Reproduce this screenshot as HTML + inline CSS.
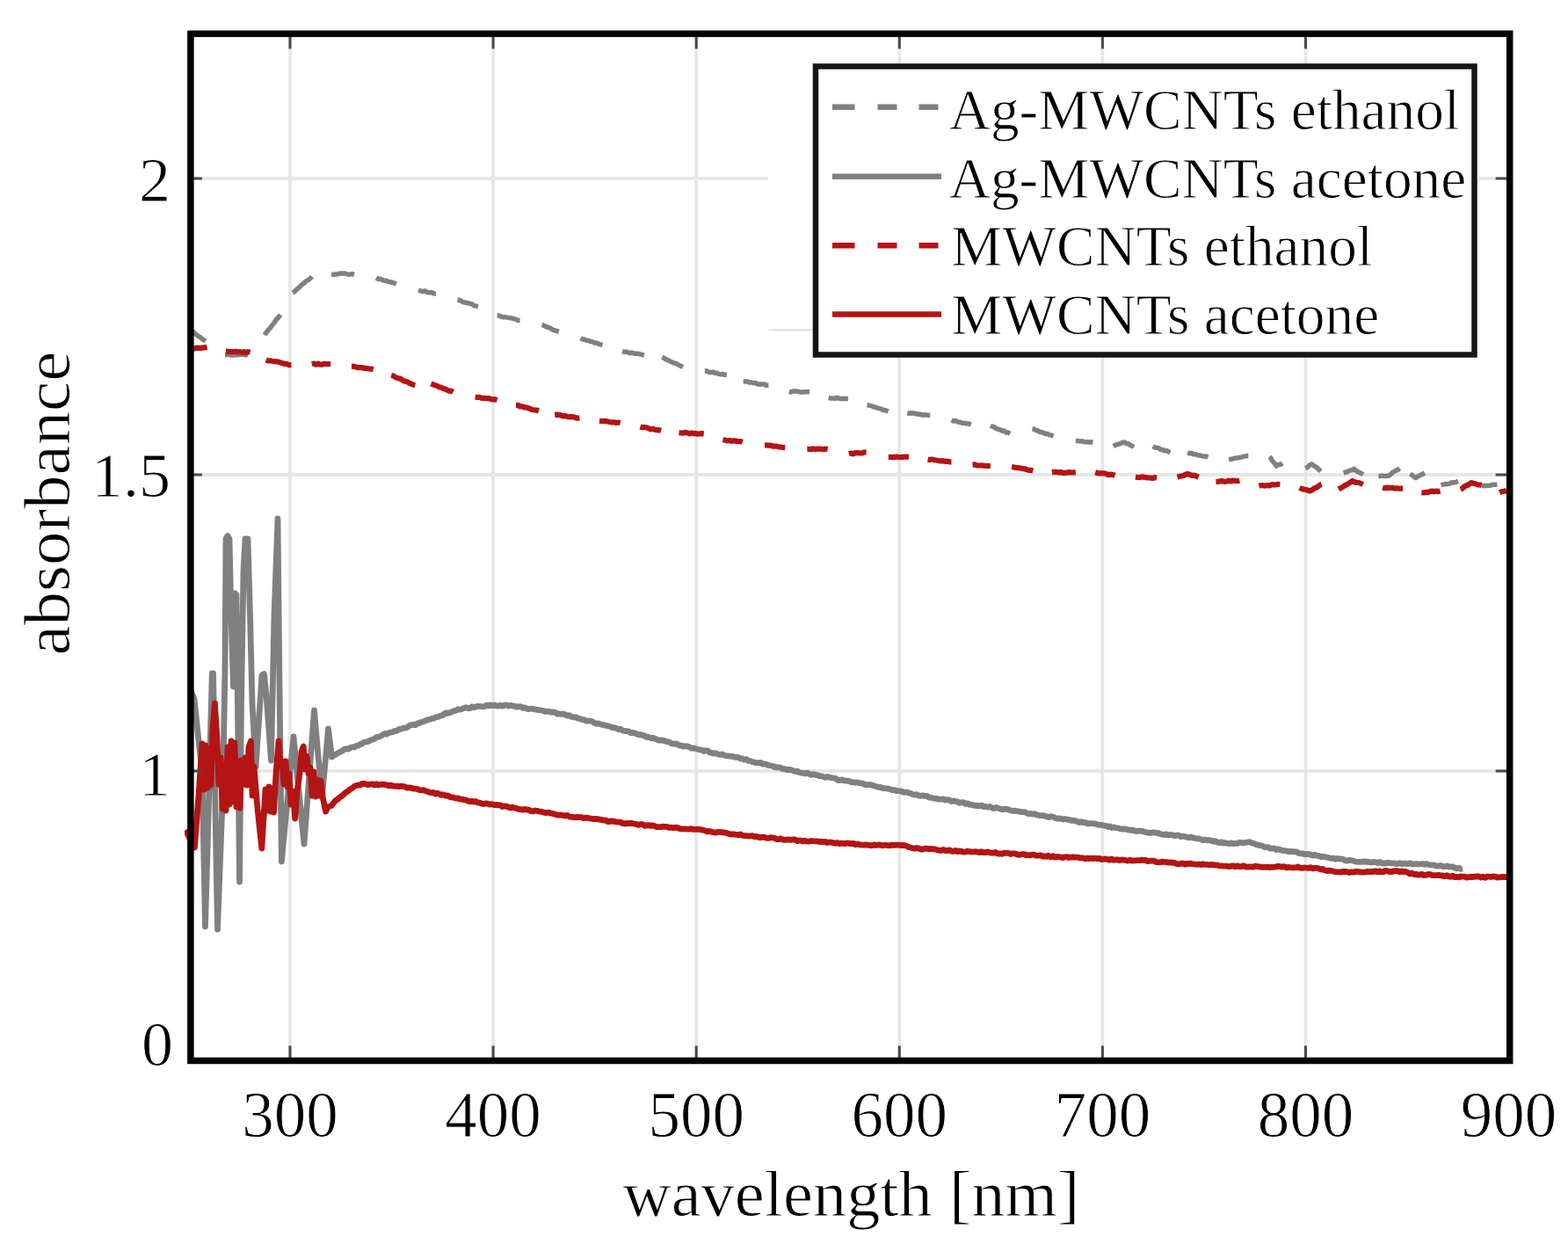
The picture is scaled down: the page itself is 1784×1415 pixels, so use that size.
<!DOCTYPE html>
<html><head><meta charset="utf-8"><title>absorbance</title>
<style>html,body{margin:0;padding:0;background:#fff;}body{width:1784px;height:1415px;overflow:hidden;}svg{display:block;}text{font-family:'Liberation Serif', 'Times New Roman', serif;fill:#000;stroke:#fff;stroke-width:0.9px;}</style>
</head><body>
<svg width="1784" height="1415" viewBox="0 0 1784 1415">
<rect x="0" y="0" width="1784" height="1415" fill="#fff"/>
<path d="M330.0 38.4V1206.5M561.1 38.4V1206.5M792.2 38.4V1206.5M1023.3 38.4V1206.5M1254.4 38.4V1206.5M1485.5 38.4V1206.5M216.9 203H874M1682 203H1717.7M216.9 540H1717.7M216.9 877H1717.7" stroke="#e7e7e7" stroke-width="3.8" fill="none"/>
<path d="M874.5 375.3H925" stroke="#e2e2e2" stroke-width="2.2" fill="none"/>
<defs><clipPath id="ax"><rect x="210" y="38.4" width="1507.7" height="1168.1"/></clipPath></defs>
<g clip-path="url(#ax)" fill="none" stroke-linejoin="round">
<path d="M216.0 783.0L221.0 795.0L230.0 880.0L233.5 1054.0L236.5 950.0L241.3 766.0L242.6 766.0L245.5 950.0L247.5 1057.0L253.5 900.0L256.0 760.0L257.0 613.0L259.0 609.5L261.0 613.0L263.0 700.0L265.5 781.0L266.8 700.0L267.5 675.0L269.0 677.0L271.0 850.0L272.5 1003.0L274.5 800.0L277.0 650.0L279.0 613.0L282.0 613.0L284.5 700.0L287.0 800.0L291.0 872.0L298.0 768.0L300.5 766.5L303.0 790.0L308.5 865.0L312.0 700.0L316.0 590.0L318.0 780.0L320.4 980.0L327.0 910.0L334.0 838.0L340.0 900.0L346.0 960.0L352.0 880.0L357.5 808.0L362.0 860.0L366.5 905.0L370.0 868.0L373.5 829.0L377.5 861.0L379.8 859.1L382.3 858.1L384.6 856.4L386.8 855.6L389.3 854.3L391.4 852.5L393.7 851.6L396.0 852.1L398.5 850.4L400.8 849.7L403.1 850.0L405.5 848.3L407.7 848.0L410.2 846.5L412.3 845.8L414.6 844.1L417.0 843.9L419.4 843.3L421.9 841.7L423.8 841.2L426.4 840.1L428.4 838.3L431.0 838.3L433.6 837.0L435.5 835.8L438.0 834.4L439.9 835.1L442.3 833.5L444.7 833.1L447.0 832.5L449.4 831.5L451.7 831.1L454.0 829.5L456.4 829.4L458.7 828.1L461.1 828.2L463.4 827.3L465.8 825.3L467.6 824.8L470.1 824.2L472.5 824.6L475.0 822.9L477.0 822.6L479.6 821.2L481.6 820.8L484.3 819.7L486.4 818.8L488.5 818.4L491.4 817.4L493.5 817.1L495.7 815.9L497.9 815.5L500.0 814.6L502.9 813.8L505.0 812.5L507.1 810.9L509.2 811.3L511.9 810.6L513.9 809.9L516.4 808.6L518.9 808.1L521.3 806.7L523.6 807.2L525.8 806.3L528.0 805.5L530.1 804.7L532.7 805.6L534.8 805.6L537.3 803.8L539.2 804.7L541.6 803.9L543.9 803.3L546.2 803.3L548.5 803.8L551.1 803.7L553.2 802.2L555.6 802.9L557.8 801.8L560.3 802.7L562.5 802.0L564.7 802.8L567.3 803.0L569.3 802.3L571.8 803.2L574.1 802.2L576.4 802.0L578.7 803.0L581.2 802.3L583.1 802.8L585.6 803.4L588.2 804.1L590.3 803.6L592.4 803.7L595.0 805.4L597.2 804.8L599.4 806.2L602.1 806.5L604.3 806.0L606.5 806.4L608.8 806.9L611.1 807.4L613.4 807.7L615.7 808.0L618.1 808.5L620.4 809.4L622.8 809.1L625.3 809.4L627.1 810.2L629.6 809.9L632.0 810.5L633.9 812.0L636.5 811.8L639.0 812.4L640.9 811.9L643.5 813.2L646.0 814.1L647.9 813.6L650.5 815.3L652.5 815.8L655.1 815.6L657.0 817.0L659.7 817.5L661.7 818.3L664.5 818.6L666.6 819.7L668.7 820.3L670.9 819.8L673.9 820.7L676.1 822.2L678.4 823.3L680.8 822.8L683.2 823.8L684.9 824.4L687.4 824.7L689.9 825.4L691.7 825.8L694.3 826.6L697.0 827.7L698.8 827.7L701.5 828.6L703.3 829.7L706.1 829.3L707.9 830.6L710.7 831.7L712.6 831.5L715.4 832.1L717.3 833.5L720.0 833.4L721.9 833.8L724.7 834.9L726.5 835.8L729.3 835.6L731.1 836.4L733.8 837.1L735.6 838.4L738.3 838.5L741.0 839.8L742.8 839.2L745.5 840.2L747.2 841.1L749.9 842.2L751.7 842.0L754.4 842.3L757.1 842.8L758.9 843.9L761.6 844.1L763.4 845.5L766.1 846.2L768.8 845.8L770.6 846.4L773.3 848.0L775.0 848.1L777.7 849.0L779.5 848.7L782.2 849.0L784.9 849.9L786.7 851.2L789.4 850.9L791.2 851.5L793.9 852.2L795.7 852.6L798.4 853.2L801.1 854.6L802.8 853.7L805.5 854.1L807.3 856.0L810.0 856.4L811.8 857.0L814.5 856.7L817.2 858.0L819.0 858.4L821.7 857.8L823.5 859.0L826.2 859.7L828.0 859.8L830.6 860.2L833.3 860.4L835.1 860.9L837.8 861.3L839.6 861.4L842.3 862.8L845.0 863.0L846.8 864.2L849.5 863.6L851.3 865.4L854.0 865.7L855.7 866.5L858.4 867.1L861.1 867.8L862.9 867.7L865.6 867.4L867.4 869.0L870.1 868.8L871.9 869.4L874.6 870.6L877.3 871.0L879.1 871.3L881.7 872.8L883.5 872.7L886.2 872.8L888.0 873.1L890.7 874.7L893.4 874.7L895.2 875.6L897.9 875.4L899.7 875.6L902.5 876.7L904.3 877.5L907.1 877.1L909.0 878.5L911.8 879.2L913.6 879.4L916.4 880.0L918.3 879.1L921.1 880.6L923.0 881.4L925.7 880.6L927.6 881.3L930.3 881.8L932.1 882.6L934.8 882.9L936.5 883.4L939.2 884.3L941.7 883.6L944.2 884.2L945.9 884.6L948.3 885.0L950.7 885.4L952.9 887.3L955.1 887.5L957.9 886.8L959.9 887.8L962.6 888.0L964.5 888.3L967.0 888.8L968.9 889.6L971.4 890.0L974.0 890.0L975.9 890.1L978.5 890.8L980.5 890.8L983.3 892.0L985.4 892.7L987.7 892.6L990.0 892.5L992.4 893.2L994.9 893.9L997.4 894.8L999.1 895.4L1001.7 895.3L1004.3 896.5L1006.1 896.6L1008.8 896.8L1010.6 897.1L1013.3 897.9L1015.2 898.6L1017.9 898.7L1019.8 899.5L1022.6 899.7L1024.5 899.8L1027.3 900.8L1029.1 901.4L1031.9 901.0L1033.8 901.9L1036.5 902.5L1038.4 903.6L1041.1 904.2L1042.9 903.6L1045.6 905.0L1048.3 905.3L1050.1 904.8L1052.8 905.7L1054.6 905.4L1057.2 907.1L1059.0 907.2L1061.7 908.0L1064.4 908.4L1066.2 908.5L1068.9 909.1L1070.7 909.2L1073.4 908.9L1075.2 910.0L1077.9 909.6L1080.6 910.3L1082.4 911.6L1085.0 910.9L1086.8 911.3L1089.5 911.8L1091.3 913.3L1094.0 912.7L1096.7 912.9L1098.5 914.5L1101.2 913.8L1103.0 915.2L1105.7 915.4L1107.5 915.9L1110.2 916.5L1112.8 916.3L1114.6 916.9L1117.3 916.1L1119.1 917.5L1121.8 917.5L1124.5 918.2L1126.3 917.5L1129.0 918.9L1130.8 919.5L1133.5 918.5L1135.3 919.2L1138.0 920.0L1140.6 920.8L1142.4 920.1L1145.1 920.4L1146.9 920.8L1149.6 921.8L1151.4 922.3L1154.1 922.2L1156.8 922.6L1158.6 922.9L1161.3 923.3L1163.1 923.7L1165.7 923.6L1167.5 924.5L1170.2 925.7L1172.9 925.3L1174.7 926.1L1177.4 925.7L1179.2 926.8L1181.9 927.4L1184.6 927.7L1186.4 927.7L1189.1 928.2L1190.8 928.7L1193.5 929.6L1195.3 928.7L1198.0 929.1L1200.7 930.5L1202.5 931.1L1205.2 930.9L1207.0 931.1L1209.7 932.0L1211.6 931.5L1214.3 932.1L1216.2 932.3L1219.0 933.3L1220.8 933.2L1223.6 933.6L1225.5 934.6L1228.3 935.5L1230.2 934.7L1233.0 935.9L1234.8 935.7L1237.6 936.9L1239.4 936.7L1242.1 936.7L1243.9 936.9L1246.5 937.0L1249.2 938.2L1250.9 938.3L1253.4 938.4L1255.9 939.1L1258.3 939.4L1260.7 940.5L1262.9 939.8L1265.1 941.5L1267.3 941.0L1269.4 941.6L1272.1 941.8L1274.1 942.6L1276.7 943.0L1278.6 942.9L1281.2 943.1L1283.1 943.8L1285.7 944.4L1288.3 944.0L1290.2 944.8L1292.9 945.6L1295.0 945.1L1297.1 945.0L1299.3 945.3L1302.2 946.4L1304.5 946.7L1306.8 947.4L1309.2 947.5L1310.7 946.8L1313.1 947.0L1315.5 947.4L1317.9 947.5L1320.4 948.7L1322.8 949.2L1325.3 949.6L1326.9 948.7L1329.4 950.0L1331.9 949.4L1334.3 949.9L1336.8 950.7L1339.3 950.0L1340.9 950.2L1343.3 951.7L1345.8 951.1L1348.2 951.6L1350.6 952.3L1353.1 952.8L1354.8 952.0L1357.4 952.9L1359.9 953.5L1361.7 953.8L1364.3 953.8L1366.9 954.8L1368.6 955.7L1371.2 955.2L1373.8 955.9L1375.5 955.5L1378.0 956.1L1380.5 957.2L1382.9 956.7L1385.3 958.2L1387.6 958.6L1389.8 957.6L1391.9 959.2L1394.5 958.6L1396.4 959.4L1398.7 959.6L1401.3 958.9L1403.2 959.5L1405.8 959.3L1407.8 959.4L1410.3 958.2L1412.7 958.7L1414.7 958.9L1417.1 958.3L1419.3 958.1L1421.7 957.7L1424.2 958.8L1426.3 959.1L1428.6 960.4L1431.0 961.1L1433.2 961.6L1435.6 961.8L1438.2 963.3L1440.2 963.7L1442.9 963.6L1445.2 965.2L1447.1 965.2L1449.8 964.9L1452.0 966.6L1454.2 965.7L1456.5 966.4L1458.9 967.4L1461.3 967.6L1463.8 968.0L1466.3 968.6L1468.0 968.5L1470.6 968.7L1473.2 968.9L1475.0 969.0L1477.6 970.5L1480.2 970.9L1481.9 970.9L1484.5 971.6L1487.0 971.4L1488.7 971.5L1491.2 972.1L1493.6 973.2L1496.0 972.3L1498.4 973.4L1500.8 973.4L1503.2 974.6L1504.8 974.2L1507.3 974.6L1509.7 975.1L1512.1 975.7L1514.5 976.4L1516.9 976.1L1519.3 977.3L1521.7 976.5L1523.3 976.9L1525.7 977.0L1528.1 977.4L1530.6 978.8L1533.0 979.0L1535.4 978.4L1537.8 978.7L1540.2 979.3L1541.8 980.0L1544.2 980.3L1546.7 980.4L1549.2 980.3L1551.7 979.8L1553.3 980.3L1555.8 980.1L1558.3 980.8L1560.9 980.9L1563.4 980.5L1565.0 980.6L1567.5 981.6L1570.0 980.4L1572.4 981.8L1574.8 982.0L1576.4 982.1L1578.8 981.3L1581.1 981.7L1583.4 981.8L1586.3 982.0L1588.5 982.6L1590.6 982.3L1592.6 981.7L1595.3 982.7L1597.8 982.2L1599.7 982.5L1602.1 982.7L1604.4 981.7L1606.8 983.0L1609.0 982.9L1611.3 982.7L1613.6 982.8L1615.9 982.8L1618.2 982.5L1620.5 983.2L1622.9 982.6L1625.4 983.5L1627.3 983.9L1630.0 983.8L1632.1 984.2L1634.3 985.1L1636.5 985.2L1638.8 984.3L1641.8 985.7L1644.0 985.7L1646.2 985.0L1648.4 985.8L1650.5 985.9L1653.2 986.0L1655.2 987.0L1657.6 987.9L1659.8 987.2L1662.1 988.4L1664.0 988.0" stroke="#808080" stroke-width="6.8"/>
<path d="M211.0 944.0L216.0 954.0L221.4 964.0L226.0 905.0L230.0 846.0L232.0 898.0L234.0 848.0L236.0 896.0L238.0 852.0L240.0 893.0L242.0 830.0L244.4 800.0L247.0 840.0L249.0 892.0L251.0 862.0L253.0 920.0L255.0 870.0L257.0 922.0L259.0 850.0L261.0 915.0L263.0 843.0L265.0 912.0L267.0 845.0L269.0 918.0L271.0 866.0L273.0 919.0L275.0 865.0L277.0 892.0L279.0 862.0L281.0 893.0L283.0 850.0L285.5 843.0L287.0 905.0L289.0 872.0L293.0 920.0L297.8 965.0L300.0 930.0L302.0 898.0L304.0 922.0L306.0 895.0L308.0 923.0L310.0 897.0L311.5 924.0L314.0 880.0L317.1 843.0L319.0 870.0L321.0 866.0L323.0 892.0L325.0 866.0L327.0 895.0L329.0 880.0L331.0 915.0L333.5 900.0L335.7 931.0L338.0 900.0L341.0 880.0L343.0 855.0L345.3 849.0L347.0 875.0L349.0 860.0L351.0 880.0L353.0 873.0L355.0 905.0L357.0 878.0L359.0 906.0L361.0 887.0L363.0 905.0L365.0 888.0L367.0 906.0L370.6 923.0L373.0 918.0L377.2 916.3L379.6 913.1L381.8 910.6L384.3 909.3L386.5 906.7L388.8 905.6L391.3 903.3L393.6 901.1L396.0 900.0L398.0 897.8L400.4 896.8L402.7 894.8L405.2 893.5L407.4 893.1L409.8 893.0L412.0 891.3L414.4 891.3L416.6 892.0L418.9 892.6L421.4 892.1L423.8 891.9L426.0 893.0L428.4 891.6L430.4 893.0L433.1 892.3L435.3 892.2L437.5 892.4L439.8 892.9L442.2 893.9L444.6 893.1L447.0 894.0L449.5 894.3L451.9 894.2L453.6 894.6L456.0 894.1L458.5 894.4L460.9 895.0L463.3 896.1L465.7 896.0L467.9 896.2L470.2 897.0L472.5 897.2L474.7 897.4L477.0 898.6L479.3 898.9L481.7 898.7L484.0 899.7L486.3 900.2L488.6 901.3L490.9 901.6L493.2 901.4L495.5 903.1L497.7 902.2L500.0 903.3L502.2 904.3L504.4 903.9L507.3 905.1L509.4 904.9L511.5 906.3L513.5 906.9L516.1 907.2L518.6 908.2L521.0 907.8L523.2 908.9L525.5 909.2L527.6 909.6L529.8 909.9L532.0 910.9L534.7 911.6L537.0 911.3L539.4 912.1L541.2 911.5L543.8 912.9L546.5 913.3L548.7 914.3L550.9 914.4L553.3 913.9L555.8 914.5L557.5 915.2L560.2 914.6L562.0 915.6L564.8 915.5L566.7 915.7L569.5 916.0L571.5 917.5L574.4 916.9L576.3 917.4L578.2 917.9L581.2 919.1L583.1 918.1L585.9 919.1L587.8 919.5L590.6 920.5L592.4 920.6L595.1 921.1L596.8 920.4L599.3 921.0L601.7 921.2L603.9 922.4L606.1 922.9L608.8 922.0L610.8 922.3L613.3 922.8L615.7 923.2L618.0 923.9L620.2 924.5L622.4 924.3L624.6 924.2L626.8 925.2L629.0 925.4L631.8 926.2L634.1 927.1L636.5 927.1L638.4 927.0L640.9 927.6L643.5 928.0L645.4 927.3L647.9 929.0L649.9 929.1L652.5 929.6L654.4 929.7L657.0 929.4L659.0 929.7L661.7 929.6L663.8 930.7L666.6 930.1L668.7 930.4L670.9 930.9L673.1 931.1L675.4 931.7L677.7 931.5L680.0 931.7L682.4 932.2L684.9 932.5L687.4 933.2L689.1 932.9L691.7 934.5L694.3 934.4L696.1 933.9L698.8 934.4L701.5 934.9L703.3 935.1L706.1 935.1L707.9 936.4L710.7 937.0L712.6 936.4L714.5 936.6L717.3 936.3L719.1 936.5L721.9 937.2L723.8 937.3L726.5 938.5L728.4 937.6L731.1 937.7L733.8 939.4L735.6 938.9L738.3 938.6L740.1 939.4L742.8 938.8L744.6 939.7L747.2 940.7L749.9 940.7L751.7 940.6L754.4 940.1L756.2 940.4L758.9 940.3L760.7 941.4L763.4 941.2L766.1 941.8L767.9 941.2L770.6 941.3L772.4 942.3L775.0 942.8L776.8 942.8L779.5 942.9L782.2 943.2L784.0 943.2L786.7 942.7L788.5 943.3L791.2 943.3L793.9 943.1L795.7 943.3L798.4 944.0L800.2 944.2L802.8 945.2L804.6 945.8L807.3 945.3L810.0 946.4L811.8 946.7L814.5 947.0L816.3 946.3L819.0 946.4L820.8 946.6L823.5 946.9L826.2 947.3L828.0 948.1L830.6 948.9L832.4 949.0L835.1 948.8L836.9 949.2L839.6 949.8L842.3 948.9L844.1 950.0L846.8 950.7L848.6 950.7L851.3 951.0L854.0 950.8L855.7 950.5L858.4 951.8L860.2 951.3L862.9 952.3L864.7 952.8L867.4 952.1L870.1 952.4L871.9 953.4L874.6 953.4L876.4 952.7L879.1 952.8L880.8 953.1L883.5 954.5L886.2 954.6L888.0 953.7L890.7 955.0L892.5 955.4L895.2 955.2L897.0 954.8L899.7 955.3L902.5 954.9L904.3 954.8L907.1 956.6L909.0 956.2L910.8 956.1L913.6 957.0L915.5 956.3L918.3 957.2L920.2 957.2L923.0 956.4L924.8 956.6L927.6 956.8L929.4 956.8L932.1 957.6L934.8 957.2L936.5 957.6L939.2 957.3L940.9 958.6L943.4 957.9L945.9 958.2L948.3 958.6L950.7 959.3L953.0 958.6L955.2 959.6L957.5 959.1L959.6 959.3L961.8 959.5L964.6 958.9L966.6 959.7L968.7 959.5L971.3 959.4L973.3 960.8L975.9 960.0L977.9 960.6L980.4 961.2L983.0 961.1L984.9 960.8L987.4 961.2L989.4 961.4L991.9 961.8L994.5 960.8L996.5 961.5L999.1 961.0L1001.1 961.0L1003.7 961.8L1005.6 961.3L1008.1 961.4L1010.6 961.6L1012.5 961.8L1014.9 961.1L1017.2 961.3L1019.4 961.1L1022.1 961.2L1024.0 961.5L1026.3 961.3L1028.9 961.7L1031.0 962.0L1033.4 963.4L1035.6 963.8L1037.9 964.7L1040.2 965.2L1042.7 964.4L1045.0 965.1L1047.7 966.0L1049.9 966.0L1052.3 965.1L1054.7 965.2L1056.4 965.9L1059.1 965.4L1061.8 965.9L1063.7 965.8L1066.5 966.9L1068.5 967.2L1070.4 967.5L1073.4 966.5L1075.4 967.5L1077.3 967.6L1080.3 966.9L1082.3 968.2L1084.3 968.5L1087.2 967.4L1089.2 968.7L1091.1 968.0L1093.9 968.3L1095.8 969.2L1098.5 969.1L1100.3 968.1L1103.0 968.7L1105.7 969.0L1107.5 968.8L1110.2 968.7L1111.9 969.0L1114.6 969.7L1116.4 968.7L1119.1 969.7L1121.8 969.6L1123.6 969.0L1126.3 969.7L1128.1 970.2L1130.8 970.2L1132.6 969.5L1135.3 971.1L1138.0 970.9L1139.7 971.3L1142.4 970.1L1144.2 970.4L1146.9 970.2L1149.6 971.5L1151.4 970.8L1154.1 970.8L1155.9 971.3L1158.6 972.3L1160.4 972.3L1163.1 971.6L1165.7 971.6L1167.5 972.9L1170.2 972.5L1172.0 972.9L1174.7 972.1L1176.5 972.2L1179.2 973.4L1181.9 973.1L1183.7 972.7L1186.4 974.3L1188.2 973.9L1190.8 974.4L1192.6 973.3L1195.3 974.8L1198.0 973.7L1199.8 975.1L1202.5 974.6L1204.3 974.5L1207.0 975.0L1208.8 975.7L1211.6 974.8L1214.3 974.7L1216.2 975.5L1218.0 975.1L1220.8 975.0L1222.7 975.2L1225.5 975.2L1227.4 975.5L1230.2 975.8L1232.0 975.9L1234.8 976.8L1236.6 976.1L1239.4 976.6L1241.2 976.2L1243.9 976.6L1246.5 976.2L1248.3 976.6L1250.9 976.4L1253.4 977.6L1255.1 977.4L1257.5 976.9L1259.9 977.5L1262.2 978.3L1264.4 977.1L1266.6 978.3L1269.4 977.8L1271.4 977.9L1274.1 978.6L1276.0 977.9L1278.6 978.2L1280.5 978.5L1283.1 979.1L1285.7 978.1L1287.6 979.0L1290.2 978.9L1292.2 978.8L1294.3 978.6L1297.1 978.6L1299.3 978.2L1301.5 978.5L1303.8 978.5L1306.1 979.8L1308.4 979.1L1310.7 979.2L1313.1 979.2L1315.5 980.6L1317.9 980.8L1320.4 980.7L1322.0 980.2L1324.5 980.3L1326.9 980.6L1329.4 981.1L1331.9 980.8L1334.3 981.4L1336.0 981.3L1338.4 982.6L1340.9 982.8L1343.3 982.3L1345.8 981.9L1348.2 983.2L1349.8 982.3L1352.2 982.5L1354.6 982.1L1357.0 982.9L1359.4 983.1L1361.9 983.3L1364.3 983.0L1366.7 983.6L1368.3 982.9L1370.7 983.4L1373.1 983.3L1375.5 983.9L1377.9 983.5L1380.3 983.6L1382.7 984.1L1385.2 984.1L1386.8 984.7L1389.2 984.8L1391.6 985.2L1394.0 985.2L1396.4 985.3L1398.8 985.7L1401.2 985.0L1403.6 984.9L1405.2 986.0L1407.6 984.8L1410.1 985.7L1412.5 985.7L1414.9 984.7L1417.3 986.0L1419.7 986.2L1422.1 985.8L1423.7 986.0L1426.1 986.1L1428.5 985.1L1430.9 985.8L1433.4 985.8L1435.8 986.3L1438.2 986.3L1440.6 986.4L1442.2 986.1L1444.6 986.6L1447.0 986.4L1449.5 986.4L1451.9 985.7L1454.4 985.5L1456.1 985.7L1458.6 986.1L1461.1 985.7L1463.6 986.9L1465.3 986.5L1467.8 986.7L1470.3 986.8L1472.7 986.9L1475.2 986.7L1476.8 985.9L1479.2 987.3L1481.6 987.3L1483.9 987.0L1486.2 987.2L1488.5 987.5L1490.7 986.7L1493.5 987.9L1495.5 987.3L1498.0 987.3L1500.4 987.9L1502.7 989.0L1504.9 988.5L1507.0 989.7L1509.6 990.6L1511.7 990.2L1513.9 990.4L1516.2 990.8L1518.5 991.5L1521.1 991.9L1523.1 991.8L1525.9 992.1L1528.2 991.3L1530.7 991.5L1532.4 991.7L1535.1 992.5L1537.1 991.8L1540.1 992.2L1542.2 991.3L1544.3 991.3L1546.4 991.6L1548.6 992.2L1550.8 992.2L1553.1 992.1L1555.3 991.4L1558.7 991.6L1561.0 991.5L1563.2 991.4L1565.5 990.8L1567.7 991.9L1569.8 990.8L1572.0 991.9L1574.1 991.8L1576.1 990.3L1579.1 990.9L1581.0 991.5L1583.7 991.7L1585.4 990.9L1587.7 990.6L1590.5 990.6L1592.4 991.8L1594.9 990.9L1597.0 991.7L1599.3 991.4L1601.6 992.6L1604.1 993.9L1606.5 993.1L1608.7 994.5L1610.8 994.3L1613.3 995.1L1615.4 995.0L1617.8 994.4L1620.3 995.6L1622.9 995.2L1624.8 994.5L1627.6 994.7L1629.6 995.6L1631.6 995.6L1634.7 995.6L1636.7 995.4L1638.8 995.9L1641.0 996.0L1643.1 996.9L1646.3 995.7L1648.4 997.0L1650.6 997.3L1652.7 996.2L1654.8 997.6L1657.9 997.4L1659.9 997.8L1661.9 996.9L1663.9 997.1L1666.7 997.2L1668.6 998.2L1671.2 997.6L1673.8 997.3L1675.5 997.5L1678.2 997.2L1680.8 996.9L1682.6 997.0L1685.3 998.1L1687.0 997.2L1689.6 998.3L1692.2 997.1L1693.9 997.1L1696.4 997.5L1698.8 996.9L1701.2 997.1L1703.4 998.0L1705.6 997.9L1708.3 997.7L1710.1 997.3L1712.9 997.7L1714.8 997.7L1716.0 997.0" stroke="#b41414" stroke-width="6.8"/>
<path d="M217.0 376.0 L218.9 376.9 L220.8 378.6 L222.7 380.3 L224.6 381.6 L226.4 382.9 L228.3 383.9 L230.2 385.7 L232.1 386.7 L234.0 388.0M256.0 403.5 L258.4 403.6 L260.7 403.1 L263.1 404.1 L265.5 404.0 L267.8 403.5 L270.2 403.7 L272.5 403.2 L274.9 403.2 L277.3 403.2 L279.6 403.7 L282.0 403.5M301.0 381.0 L302.5 378.7 L304.0 377.3 L305.5 374.9 L307.0 373.6 L308.5 371.5 L310.0 369.4 L311.5 367.7 L313.0 365.7 L314.5 363.2 L316.0 361.9 L317.5 360.1 L319.0 358.0M333.0 333.0 L334.8 332.0 L336.7 329.9 L338.5 328.6 L340.3 327.1 L342.2 324.9 L344.0 323.2 L345.8 322.3 L347.7 320.2 L349.5 319.0 L351.3 318.1 L353.2 316.5 L355.0 314.5M377.0 312.0 L379.6 312.4 L382.2 312.0 L384.8 311.7 L387.4 310.9 L390.0 311.0 L392.6 311.1 L395.2 311.9 L397.8 312.3 L400.4 311.6 L403.0 312.5M428.0 316.0 L430.3 317.2 L432.6 317.2 L434.9 318.4 L437.2 319.3 L439.5 319.3 L441.8 320.5 L444.1 320.7 L446.4 321.2 L448.7 322.1 L451.0 323.0M476.0 330.0 L478.5 330.8 L481.0 331.5 L483.5 330.9 L486.0 332.5 L488.5 332.9 L491.0 332.5 L493.5 333.9 L496.0 334.0M520.5 341.0 L522.9 341.5 L525.2 342.6 L527.5 343.8 L529.9 344.2 L532.2 344.8 L534.6 345.3 L537.0 345.9 L539.3 347.7 L541.6 348.1 L544.0 348.6M565.6 358.8 L568.0 358.9 L570.3 360.2 L572.7 360.8 L575.1 360.7 L577.4 361.1 L579.8 361.5 L582.1 361.9 L584.5 362.6 L586.9 363.1 L589.2 364.4 L591.6 364.5M616.5 369.5 L618.6 370.1 L620.8 371.2 L622.9 372.2 L625.0 372.6 L627.2 373.9 L629.3 375.4 L631.4 375.8 L633.6 376.6 L635.7 377.5M660.6 384.8 L662.9 386.0 L665.1 386.1 L667.4 387.3 L669.6 387.4 L671.9 388.4 L674.1 388.8 L676.4 389.9 L678.6 390.0 L680.9 391.2 L683.1 391.8 L685.4 392.7M708.0 399.5 L710.5 400.3 L713.0 400.1 L715.5 401.4 L718.0 401.3 L720.5 401.6 L722.9 402.3 L725.4 402.3 L727.9 402.7 L730.4 403.5 L732.9 404.0M753.3 406.3 L755.5 407.3 L757.6 408.6 L759.8 409.5 L761.9 410.6 L764.1 411.9 L766.2 412.8 L768.4 413.1 L770.5 414.2 L772.7 415.5 L774.8 416.4 L777.0 417.6M801.9 422.0 L804.2 421.9 L806.4 423.3 L808.7 423.5 L811.0 423.1 L813.3 424.2 L815.5 424.2 L817.8 425.4 L820.1 425.8 L822.4 425.5 L824.6 426.3 L826.9 426.6M845.7 433.8 L848.1 433.9 L850.5 434.1 L852.9 435.1 L855.3 435.0 L857.7 435.8 L860.0 435.6 L862.4 437.0 L864.8 437.0 L867.2 436.9 L869.6 437.0 L872.0 438.3 L874.4 438.3M897.8 445.5 L900.1 446.0 L902.5 445.1 L904.8 445.0 L907.1 445.0 L909.5 445.8 L911.8 445.9 L914.1 446.1 L916.4 445.7 L918.8 445.7 L921.1 445.5M942.6 452.6 L945.1 453.1 L947.6 452.9 L950.1 453.2 L952.6 452.4 L955.0 453.3 L957.5 453.5 L960.0 453.3 L962.5 453.4 L965.0 453.5M986.5 460.7 L988.9 461.1 L991.4 461.7 L993.8 462.7 L996.2 463.2 L998.6 464.2 L1001.1 464.6 L1003.5 465.8 L1005.9 466.5 L1008.4 467.0 L1010.8 467.9M1032.3 469.7 L1034.7 470.2 L1037.0 469.8 L1039.4 470.0 L1041.8 470.5 L1044.1 471.2 L1046.5 470.9 L1048.8 471.9 L1051.2 471.8 L1053.6 471.9 L1055.9 472.3 L1058.3 472.4M1082.5 477.8 L1085.0 478.9 L1087.5 478.6 L1089.9 479.9 L1092.4 480.2 L1094.9 481.3 L1097.4 481.3 L1099.8 481.8 L1102.3 481.9 L1104.8 483.0M1126.9 484.3 L1129.1 485.2 L1131.4 485.7 L1133.6 487.5 L1135.9 488.1 L1138.1 488.9 L1140.3 490.2 L1142.6 490.1 L1144.8 491.9 L1147.1 492.1 L1149.3 493.3M1174.4 487.9 L1176.6 488.1 L1178.8 489.5 L1181.0 490.0 L1183.2 491.3 L1185.4 491.7 L1187.7 492.3 L1189.9 493.6 L1192.1 493.5 L1194.3 494.9 L1196.5 495.2 L1198.7 496.0M1223.8 501.3 L1226.3 501.5 L1228.7 501.9 L1231.2 501.7 L1233.7 502.7 L1236.1 502.7 L1238.6 503.0 L1241.0 502.8 L1243.5 503.1M1266.8 507.6 L1269.3 506.1 L1271.8 505.3 L1274.4 504.7 L1276.9 503.4 L1279.4 503.0 L1281.5 504.6 L1283.7 504.6 L1285.8 506.3 L1288.0 507.2 L1290.1 508.5M1311.7 507.6 L1313.9 509.0 L1316.1 509.3 L1318.3 509.6 L1320.5 511.4 L1322.6 511.5 L1324.8 512.7 L1327.0 512.6 L1329.2 513.6 L1331.4 514.8M1351.1 514.8 L1353.4 515.8 L1355.8 515.5 L1358.1 516.8 L1360.4 516.7 L1362.8 517.8 L1365.1 517.9 L1367.4 518.7 L1369.7 519.3 L1372.1 519.1 L1374.4 520.2M1398.0 522.5 L1400.5 522.2 L1403.0 521.7 L1405.4 521.1 L1407.9 520.9 L1410.4 520.3 L1412.9 519.9 L1415.3 519.1 L1417.8 518.6 L1420.3 518.6M1444.4 519.5 L1445.9 521.1 L1447.4 523.8 L1449.0 525.9 L1450.5 527.4 L1452.0 530.0 L1454.4 528.4 L1456.8 528.5 L1459.2 526.9M1485.1 532.5 L1487.6 531.5 L1490.0 529.1 L1492.5 527.9 L1494.5 529.6 L1496.6 530.8 L1498.6 532.3 L1500.7 534.1 L1502.7 536.2M1528.6 538.0 L1531.0 537.2 L1533.4 536.5 L1535.8 535.0 L1538.2 534.8 L1540.6 533.4 L1542.6 535.2 L1544.7 536.5 L1546.7 537.5 L1548.8 538.4 L1550.8 539.9M1568.3 541.7 L1570.6 541.6 L1573.0 541.1 L1575.3 541.6 L1577.7 541.5 L1580.0 541.0 L1582.1 539.8 L1584.1 537.6 L1586.2 536.4 L1588.3 535.1 L1590.3 534.5 L1592.4 532.5M1604.4 539.0 L1606.6 540.3 L1608.7 542.4 L1610.9 543.6 L1613.4 541.7 L1616.0 540.5 L1618.5 539.3 L1621.0 538.0M1639.5 551.9 L1641.9 551.2 L1644.4 550.6 L1646.8 550.7 L1649.2 550.1 L1651.7 548.8 L1654.1 548.9 L1656.6 548.4 L1659.0 547.3M1685.8 552.8 L1688.3 552.5 L1690.8 552.3 L1693.3 552.4 L1695.9 552.1 L1698.4 551.3 L1700.9 551.3 L1703.4 551.0" stroke="#808080" stroke-width="5.5"/>
<path d="M217.0 397.0 L219.3 396.9 L221.7 396.3 L224.0 395.6 L226.3 395.8 L228.6 396.1 L230.9 395.3 L233.3 395.3 L235.6 394.9M256.9 399.7 L259.2 399.7 L261.5 400.2 L263.8 400.0 L266.1 400.0 L268.4 399.8 L270.8 400.5 L273.1 400.0 L275.4 401.0 L277.7 400.2 L280.0 401.2 L282.3 400.2 L284.6 400.8M302.7 409.3 L305.1 410.3 L307.5 410.3 L309.9 410.8 L312.3 411.2 L314.7 411.3 L317.0 411.6 L319.4 412.6 L321.8 413.2 L324.2 414.0 L326.6 413.9 L329.0 415.2 L331.4 415.1M354.8 414.1 L357.2 413.5 L359.6 414.7 L361.9 413.7 L364.3 414.7 L366.7 414.6 L369.1 413.8 L371.4 414.1 L373.8 414.0 L376.2 414.1M400.0 416.8 L402.5 416.7 L405.0 417.4 L407.4 418.2 L409.9 418.1 L412.4 418.2 L414.9 419.0 L417.4 418.9 L419.8 419.6 L422.3 419.5 L424.8 420.2M445.2 427.0 L447.5 427.6 L449.7 429.0 L452.0 430.0 L454.2 430.5 L456.5 431.3 L458.8 433.0 L461.0 433.7 L463.3 434.2 L465.5 435.6 L467.8 436.6 L470.0 437.6 L472.3 438.3M490.4 436.5 L492.7 437.3 L495.0 438.3 L497.2 438.7 L499.5 440.3 L501.8 440.5 L504.1 442.0 L506.4 442.4 L508.7 443.6 L510.9 444.6 L513.2 444.6 L515.5 446.0M540.7 451.5 L543.2 452.0 L545.7 451.9 L548.2 452.8 L550.7 452.9 L553.2 453.1 L555.6 453.0 L558.1 453.7 L560.6 454.4 L563.1 454.2 L565.6 454.9M587.0 460.6 L589.4 460.8 L591.7 462.4 L594.1 462.3 L596.5 463.4 L598.8 463.4 L601.2 464.2 L603.5 465.3 L605.9 466.0 L608.3 466.5 L610.6 466.6 L613.0 467.3M631.2 471.9 L633.6 471.7 L635.9 471.9 L638.2 472.4 L640.6 473.5 L643.0 473.0 L645.3 473.9 L647.6 474.2 L650.0 474.2 L652.4 474.1 L654.7 475.1 L657.0 475.6 L659.4 475.3M682.0 478.7 L684.4 479.0 L686.8 478.8 L689.1 479.1 L691.5 479.4 L693.9 480.0 L696.3 480.5 L698.7 480.3 L701.0 480.9 L703.4 480.5 L705.8 481.0M728.4 485.4 L730.8 486.2 L733.1 486.0 L735.5 486.3 L737.9 487.2 L740.2 488.3 L742.6 487.7 L745.0 488.7 L747.4 489.1 L749.7 489.2 L752.1 490.0M772.5 492.2 L774.9 492.5 L777.2 492.6 L779.6 491.9 L781.9 492.2 L784.3 493.3 L786.6 492.4 L789.0 493.1 L791.4 492.9 L793.7 493.7 L796.1 493.4 L798.4 493.1 L800.8 493.4M822.4 500.2 L824.9 500.6 L827.4 501.4 L829.9 501.0 L832.4 501.8 L834.8 501.3 L837.3 501.6 L839.8 502.1 L842.3 502.0 L844.8 502.9M870.0 506.5 L872.3 506.4 L874.7 506.6 L877.0 506.7 L879.3 507.7 L881.6 507.5 L884.0 507.7 L886.3 508.4 L888.6 508.5 L891.0 509.0 L893.3 509.1M918.4 511.0 L920.7 510.9 L923.1 510.9 L925.4 510.4 L927.7 511.1 L930.0 510.5 L932.4 510.6 L934.7 510.7 L937.0 511.2 L939.4 510.5 L941.7 511.0M965.9 516.3 L968.4 515.5 L970.9 516.4 L973.3 515.0 L975.8 515.2 L978.3 515.5 L980.8 515.3 L983.2 514.4 L985.7 514.5M1010.8 519.9 L1013.1 519.9 L1015.4 520.1 L1017.8 519.8 L1020.1 519.5 L1022.4 520.0 L1024.7 520.1 L1027.0 519.8 L1029.4 519.6 L1031.7 519.7 L1034.0 519.9M1055.6 522.6 L1058.0 523.1 L1060.5 522.5 L1062.9 523.2 L1065.4 523.5 L1067.8 524.0 L1070.3 524.3 L1072.7 524.2 L1075.2 524.8 L1077.6 524.7 L1080.1 525.3 L1082.5 525.3M1106.5 528.6 L1109.0 528.4 L1111.6 529.5 L1114.2 529.5 L1116.7 529.3 L1119.2 529.6 L1121.8 529.8 L1124.4 530.0 L1126.9 530.0M1151.1 531.0 L1153.5 531.4 L1155.9 532.0 L1158.4 532.2 L1160.8 532.5 L1163.2 533.1 L1165.6 533.1 L1168.0 534.1 L1170.5 534.9 L1172.9 534.8 L1175.3 535.4M1196.9 537.2 L1199.3 536.9 L1201.8 536.8 L1204.2 537.3 L1206.7 537.1 L1209.1 537.8 L1211.6 537.8 L1214.0 537.7 L1216.5 537.1 L1218.9 537.5 L1221.4 537.4 L1223.8 537.2M1246.2 537.2 L1248.7 538.0 L1251.2 538.4 L1253.7 538.3 L1256.2 538.3 L1258.6 538.9 L1261.1 540.2 L1263.6 539.6 L1266.1 540.0 L1268.6 540.8M1291.9 542.6 L1294.3 543.0 L1296.7 543.1 L1299.2 542.4 L1301.6 542.7 L1304.0 543.1 L1306.4 543.3 L1308.8 543.7 L1311.3 543.9 L1313.7 543.2 L1316.1 543.5M1339.5 542.6 L1341.8 542.0 L1344.1 541.4 L1346.5 541.0 L1348.8 539.7 L1351.1 539.0 L1353.6 539.8 L1356.1 540.8 L1358.7 540.6 L1361.2 541.6 L1363.7 542.6M1383.4 548.0 L1385.8 547.9 L1388.3 547.3 L1390.7 547.1 L1393.2 547.9 L1395.6 547.5 L1398.1 546.7 L1400.5 547.5 L1403.0 546.5 L1405.4 546.9 L1407.9 547.1 L1410.3 546.4M1432.4 552.8 L1434.8 552.1 L1437.2 552.2 L1439.6 552.6 L1442.0 552.0 L1444.4 552.5 L1446.8 551.2 L1449.2 551.3 L1451.6 551.4 L1454.0 550.8 L1456.4 551.0M1478.6 554.7 L1481.0 555.9 L1483.4 556.6 L1485.8 556.9 L1488.2 557.9 L1490.6 558.4 L1492.8 557.5 L1494.9 555.5 L1497.1 555.0 L1499.3 553.7 L1501.4 551.8 L1503.6 551.0M1523.0 556.5 L1525.2 555.3 L1527.5 554.1 L1529.7 552.4 L1532.0 551.4 L1534.2 550.0 L1536.5 548.5 L1538.7 547.0 L1541.1 548.2 L1543.5 549.0 L1546.0 549.0 L1548.4 550.0 L1550.8 551.0M1573.0 554.7 L1575.3 555.2 L1577.6 554.7 L1579.9 554.8 L1582.2 554.9 L1584.5 554.8 L1586.9 555.6 L1589.2 555.3 L1591.5 555.8 L1593.8 555.5 L1596.1 555.6M1617.4 560.2 L1619.8 560.5 L1622.1 559.9 L1624.5 560.1 L1626.8 559.3 L1629.2 558.6 L1631.5 559.1 L1633.9 558.6 L1636.2 559.1 L1638.6 558.4M1661.7 556.5 L1663.7 555.7 L1665.7 553.8 L1667.8 552.4 L1669.8 552.0 L1671.8 550.5 L1673.8 549.1 L1676.2 549.8 L1678.6 550.2 L1681.0 551.3 L1683.4 551.5 L1685.8 551.9M1706.1 560.2 L1708.7 559.2 L1711.4 558.8 L1714.0 558.0" stroke="#b41414" stroke-width="6.2"/>
</g>
<path d="M330.0 1206.5V1189.5M330.0 38.4V55.4M561.1 1206.5V1189.5M561.1 38.4V55.4M792.2 1206.5V1189.5M792.2 38.4V55.4M1023.3 1206.5V1189.5M1023.3 38.4V55.4M1254.4 1206.5V1189.5M1254.4 38.4V55.4M1485.5 1206.5V1189.5M1485.5 38.4V55.4M216.9 203.0H229.9M1717.7 203.0H1701.7M216.9 540.0H229.9M1717.7 540.0H1701.7M216.9 877.0H229.9M1717.7 877.0H1701.7" stroke="#4a4a4a" stroke-width="3" fill="none"/>
<rect x="216.9" y="38.4" width="1500.8" height="1168.1" fill="none" stroke="#000" stroke-width="7.5"/>
<rect x="928" y="75.5" width="749.5" height="328" fill="#fff" stroke="#161616" stroke-width="6.5"/>
<path d="M947 121.8H972.5M998.5 121.8H1020.5M1045.5 121.8H1067.5" stroke="#808080" stroke-width="6.5" fill="none"/>
<text x="1079.8" y="146.5" font-size="65.3">Ag-MWCNTs ethanol</text>
<path d="M947 200.8H1071" stroke="#808080" stroke-width="6.5" fill="none"/>
<text x="1079.8" y="225.2" font-size="65.3">Ag-MWCNTs acetone</text>
<path d="M947 279.2H972.5M998.5 279.2H1020.5M1045.5 279.2H1067.5" stroke="#b41414" stroke-width="6.5" fill="none"/>
<text x="1082.3" y="301.8" font-size="65.3">MWCNTs ethanol</text>
<path d="M947 357.6H1071" stroke="#b41414" stroke-width="6.5" fill="none"/>
<text x="1082.3" y="380.2" font-size="65.3">MWCNTs acetone</text>
<text x="330.0" y="1292.5" font-size="73" text-anchor="middle">300</text>
<text x="561.1" y="1292.5" font-size="73" text-anchor="middle">400</text>
<text x="792.2" y="1292.5" font-size="73" text-anchor="middle">500</text>
<text x="1023.3" y="1292.5" font-size="73" text-anchor="middle">600</text>
<text x="1254.4" y="1292.5" font-size="73" text-anchor="middle">700</text>
<text x="1485.5" y="1292.5" font-size="73" text-anchor="middle">800</text>
<text x="1716.6" y="1292.5" font-size="73" text-anchor="middle">900</text>
<text x="194.0" y="228.5" font-size="72" text-anchor="end">2</text>
<text x="194.0" y="564.5" font-size="72" text-anchor="end">1.5</text>
<text x="194.0" y="904.5" font-size="72" text-anchor="end">1</text>
<text x="197.0" y="1211.5" font-size="72" text-anchor="end">0</text>
<text x="968.5" y="1383" font-size="73" text-anchor="middle" textLength="520" lengthAdjust="spacingAndGlyphs">wavelength [nm]</text>
<text transform="translate(78.5 572.6) rotate(-90)" font-size="75" text-anchor="middle" textLength="346" lengthAdjust="spacingAndGlyphs">absorbance</text>
</svg></body></html>
